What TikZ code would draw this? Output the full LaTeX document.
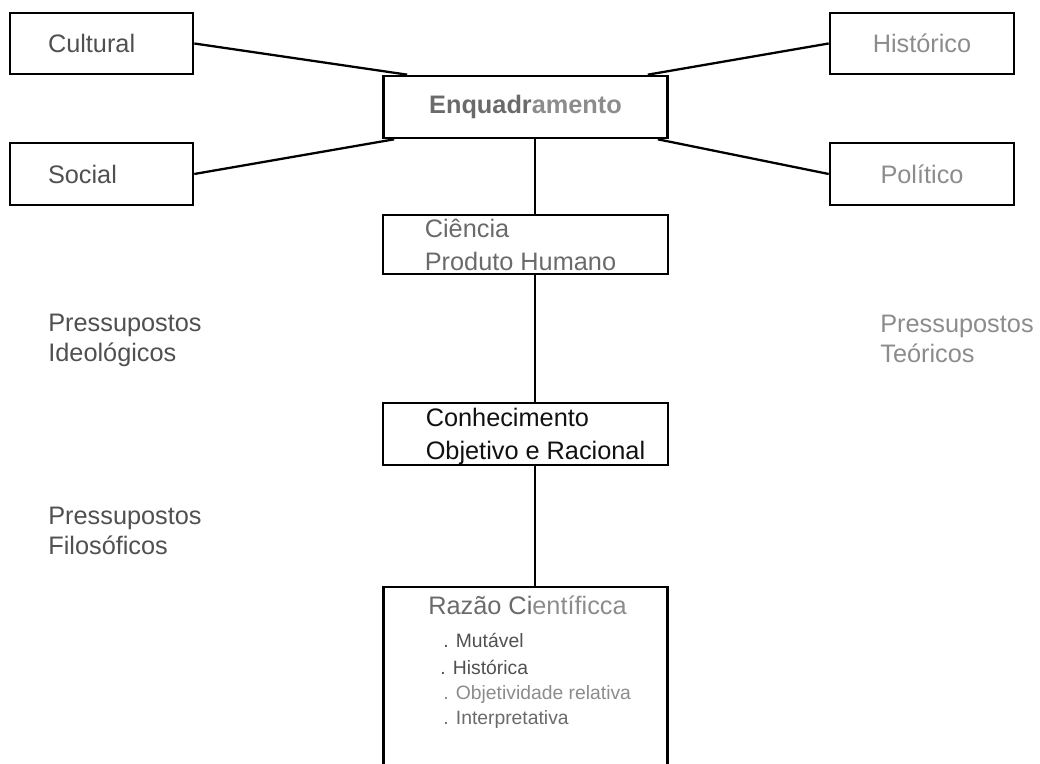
\documentclass[tikz,border=0pt]{standalone}
\usepackage{fontspec}
\setmainfont{Liberation Sans}
\usepackage{xcolor}
\usetikzlibrary{positioning}
\definecolor{ink}{HTML}{111111}
\definecolor{greyA}{HTML}{505050}
\definecolor{greyB}{HTML}{6A6A6A}
\definecolor{greyC}{HTML}{8C8C8C}

\begin{document}
\begin{tikzpicture}[
  box/.style={draw,line width=1.5pt,font=\fontsize{14.4}{18.7}\selectfont,align=left,inner sep=0pt},
  free/.style={anchor=west,align=left,font=\fontsize{14.4}{17}\selectfont,inner sep=0pt},
  item/.style={anchor=base west,font=\fontsize{11}{13}\selectfont,inner sep=0pt},
  link/.style={line width=1.3pt}
]
\useasboundingbox (0,0) rectangle (20.8,15.28);

\node[box,minimum width=3.66cm,minimum height=1.22cm,text width=2.14cm,text=greyA] (cultural) at (2.03,14.41) {Cultural};
\node[box,minimum width=3.66cm,minimum height=1.24cm,text width=2.14cm,text=greyA] (social) at (2.03,11.80) {Social};
\node[box,minimum width=3.68cm,minimum height=1.22cm,text=greyC] (historico) at (18.44,14.41) {Histórico};
\node[box,minimum width=3.68cm,minimum height=1.24cm,text=greyC] (politico) at (18.44,11.80) {Político};
\node[box,minimum width=5.68cm,minimum height=1.24cm] (enq) at (10.51,13.14) {\textbf{\textcolor{greyB}{Enquadr}\textcolor{greyC}{amento}}};

\node[box,minimum width=5.70cm,minimum height=1.18cm,text=greyB] (ciencia) at (10.51,10.39) {Ciência\\Produto Humano\hspace*{0.2cm}};
\node[box,minimum width=5.70cm,minimum height=1.24cm,text depth=0pt,text=ink] (conhec) at (10.51,6.60) {\hspace*{0.4cm}Conhecimento\\\hspace*{0.4cm}Objetivo e Racional};
\node[minimum width=5.66cm,minimum height=3.54cm,anchor=north,inner sep=0pt] (razao) at (10.51,3.54) {};
\draw[box] (razao.south west) -- (razao.north west) -- (razao.north east) -- (razao.south east);

\node[item,font=\fontsize{14.4}{18}\selectfont] (razaotit) at (8.56,2.98) {\textcolor{greyB}{Razão Ci}\textcolor{greyC}{entíficca}};
\node[item,text=greyA] (mutavel) at (8.86,2.33) {. Mutável};
\node[item,text=greyA] (historica) at (8.80,1.78) {. Histórica};
\node[item,text=greyC] (objetiv) at (8.86,1.28) {. Objetividade relativa};
\node[item,text=greyB] (interp) at (8.86,0.78) {. Interpretativa};

\node[free,text=greyA] (ideol) at (0.96,8.48) {Pressupostos\\Ideológicos};
\node[free,text=greyA] (filos) at (0.96,4.67) {Pressupostos\\Filosóficos};
\node[free,text=greyC] (teor) at (17.60,8.50) {Pressupostos\\Teóricos};

\draw[link] (cultural.east) -- ([xshift=0.5cm]enq.north west);
\draw[link] (social.east) -- ([xshift=0.24cm]enq.south west);
\draw[link] (historico.west) -- ([xshift=-0.42cm]enq.north east);
\draw[link] (politico.west) -- ([xshift=-0.22cm]enq.south east);
\draw[link] ([xshift=0.19cm]enq.south) -- ([xshift=0.19cm]ciencia.north);
\draw[link] ([xshift=0.19cm]ciencia.south) -- ([xshift=0.19cm]conhec.north);
\draw[link] ([xshift=0.19cm]conhec.south) -- ([xshift=0.19cm]razao.north);

\end{tikzpicture}
\end{document}
